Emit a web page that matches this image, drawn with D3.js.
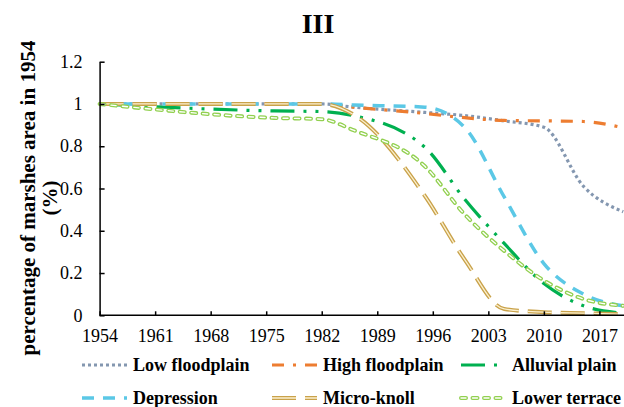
<!DOCTYPE html>
<html>
<head>
<meta charset="utf-8">
<script src="https://cdn.jsdelivr.net/npm/d3@7"></script>
<style>
  html, body { margin: 0; padding: 0; background: #fff; }
  svg { display: block; }
  text { font-family: "Liberation Serif", "Times New Roman", serif; fill: #000; }
</style>
</head>
<body>
<svg id="chart" width="624" height="407"></svg>
<script>
// ---- data ----
const years = [1954, 1976, 1982, 1986, 1995, 2000, 2005, 2010, 2015, 2020];
const lowFloodplain  = [1, 1, 1, 0.985, 0.96, 0.945, 0.92, 0.89, 0.61, 0.49];
const highFloodplain = [1, 1, 1, 0.985, 0.955, 0.935, 0.922, 0.92, 0.917, 0.887];
const alluvialPlain  = [1, 0.967, 0.964, 0.945, 0.795, 0.55, 0.34, 0.15, 0.045, 0.01];
const depression     = [1, 1, 1, 0.995, 0.985, 0.89, 0.56, 0.245, 0.1, 0.045];
const microKnoll     = [1, 1, 1, 0.95, 0.565, 0.265, 0.03, 0.015, 0.01, 0.005];
const lowerTerrace   = [1, 0.934, 0.928, 0.876, 0.705, 0.478, 0.305, 0.165, 0.077, 0.045];
const seriesNames = ["Low floodplain", "High floodplain", "Alluvial plain",
                     "Depression", "Micro-knoll", "Lower terrace"];
const xTicks = [1954, 1961, 1968, 1975, 1982, 1989, 1996, 2003, 2010, 2017];
const yTicks = [0, 0.2, 0.4, 0.6, 0.8, 1, 1.2];
const titleText = "III";
const yLabelLines = ["percentage of marshes area in 1954", "(%)"];

const seriesValues = [lowFloodplain, highFloodplain, alluvialPlain, depression, microKnoll, lowerTerrace];

// ---- styles (drawing only) ----
const styles = [
  {layers: [{stroke: "#8497b0", width: 3.2, dash: "3,3"}]},
  {layers: [{stroke: "#ed7d31", width: 3.2, dash: "12,9,3,9"}]},
  {layers: [{stroke: "#00b050", width: 3.2, dash: "24,9,3,9,3,9"}]},
  {layers: [{stroke: "#5bc8e6", width: 3.5, dash: "12,9"}]},
  {layers: [{stroke: "#c9a24a", width: 4, dash: "24,9"},
            {stroke: "#fbf0cf", width: 1.3, dash: "24,9"}]},
  {layers: [{stroke: "#92d050", width: 4, dash: "5,6.5", cap: "round"},
            {stroke: "#ffffff", width: 1.4, dash: "5,6.5", cap: "round"}]}
];

const svg = d3.select("#chart");

const x = d3.scaleLinear().domain([1954, 2020]).range([99.6, 623.2]);
const y = d3.scaleLinear().domain([0, 1.2]).range([315.3, 61.7]);

// title
svg.append("text")
  .attr("x", 318).attr("y", 33)
  .attr("text-anchor", "middle")
  .style("font-size", "28px").style("font-weight", "bold")
  .text(titleText);

// y label
const yl = svg.append("text")
  .attr("transform", "translate(0,198) rotate(-90)")
  .attr("text-anchor", "middle")
  .style("font-size", "21px").style("font-weight", "bold");
yl.append("tspan").attr("x", 0).attr("y", 35).text(yLabelLines[0]);
yl.append("tspan").attr("x", 0).attr("y", 57).text(yLabelLines[1]);

// series
const line = d3.line()
  .x((d, i) => x(years[i]))
  .y(d => y(d))
  .curve(d3.curveMonotoneX);

const plot = svg.append("g");
seriesValues.forEach((vals, si) => {
  styles[si].layers.forEach(L => {
    plot.append("path")
      .attr("d", line(vals))
      .attr("fill", "none")
      .attr("stroke", L.stroke)
      .attr("stroke-width", L.width)
      .attr("stroke-dasharray", L.dash)
      .attr("stroke-linecap", L.cap || "butt")
      .attr("stroke-linejoin", "round");
  });
});

// axes
const fmtY = d => String(+d.toFixed(1));
const yAxis = svg.append("g")
  .attr("transform", `translate(${x(1954)},0)`)
  .call(d3.axisLeft(y).tickValues(yTicks).tickFormat(fmtY).tickSizeInner(-5).tickSizeOuter(0).tickPadding(17));
const xAxis = svg.append("g")
  .attr("transform", `translate(0,${y(0)})`)
  .call(d3.axisBottom(x).tickValues(xTicks).tickFormat(d3.format("d")).tickSizeInner(-4).tickSizeOuter(0).tickPadding(14));
[yAxis, xAxis].forEach(a => {
  a.select(".domain").attr("stroke", "#000").attr("stroke-width", 1.5);
  a.selectAll(".tick line").attr("stroke", "#000").attr("stroke-width", 1.5);
  a.selectAll(".tick text").style("font-size", "18px").attr("fill", "#000");
});
xAxis.select(".domain").attr("d", `M${x(1954)},0H624`);

// legend
const legCols = [82, 272, 461];
const legRows = [365, 398];
const sampleLen = 45;
seriesNames.forEach((name, i) => {
  const cx = legCols[i % 3], cy = legRows[Math.floor(i / 3)];
  const g = svg.append("g");
  styles[i].layers.forEach(L => {
    g.append("path")
      .attr("d", d3.line()([[cx, cy], [cx + sampleLen, cy]]))
      .attr("fill", "none")
      .attr("stroke", L.stroke)
      .attr("stroke-width", L.width)
      .attr("stroke-dasharray", L.dash)
      .attr("stroke-linecap", L.cap || "butt");
  });
  g.append("text")
    .attr("x", cx + sampleLen + 6).attr("y", cy + 6)
    .style("font-size", "18px").style("font-weight", "bold")
    .text(name);
});
</script>
</body>
</html>
